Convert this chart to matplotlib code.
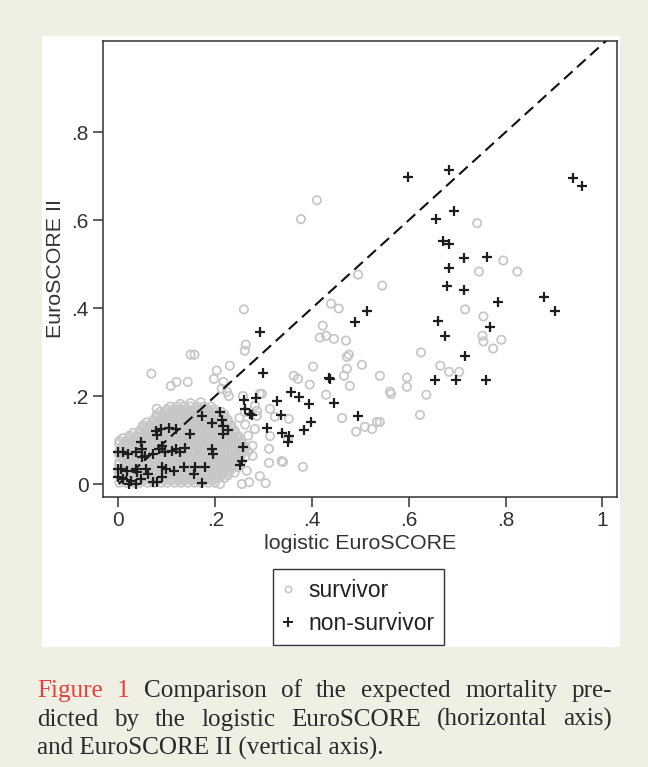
import matplotlib
matplotlib.use("Agg")
import matplotlib.pyplot as plt
from matplotlib.patches import Rectangle
from matplotlib.lines import Line2D

# ---------------- data ----------------
# dense survivor cluster, read row by row (y level, x positions)
cluster_row_y = [0.003, 0.014, 0.026, 0.038, 0.050, 0.062, 0.074, 0.086,
                 0.098, 0.110, 0.122, 0.134, 0.146, 0.158, 0.170]
cluster_row_x = [
    [0.002, 0.016, 0.031, 0.044, 0.060, 0.073, 0.088, 0.101, 0.116, 0.129, 0.144, 0.157, 0.171, 0.186, 0.199],
    [0.008, 0.023, 0.037, 0.050, 0.066, 0.080, 0.093, 0.108, 0.122, 0.136, 0.150, 0.163, 0.178, 0.192, 0.206, 0.219],
    [0.001, 0.015, 0.029, 0.043, 0.057, 0.071, 0.086, 0.099, 0.113, 0.127, 0.142, 0.155, 0.169, 0.184, 0.197, 0.212, 0.225, 0.240],
    [0.009, 0.022, 0.036, 0.051, 0.064, 0.078, 0.092, 0.106, 0.120, 0.134, 0.148, 0.162, 0.176, 0.190, 0.204, 0.218, 0.232, 0.247],
    [0.002, 0.016, 0.030, 0.044, 0.058, 0.072, 0.085, 0.100, 0.114, 0.128, 0.141, 0.156, 0.170, 0.183, 0.198, 0.211, 0.226, 0.239, 0.254],
    [0.008, 0.022, 0.037, 0.050, 0.065, 0.079, 0.093, 0.107, 0.121, 0.134, 0.149, 0.163, 0.177, 0.191, 0.205, 0.219, 0.233, 0.247, 0.262],
    [0.001, 0.015, 0.029, 0.043, 0.058, 0.071, 0.086, 0.100, 0.113, 0.128, 0.142, 0.156, 0.169, 0.184, 0.198, 0.212, 0.226, 0.240, 0.254, 0.268],
    [0.008, 0.022, 0.036, 0.050, 0.064, 0.078, 0.093, 0.106, 0.121, 0.135, 0.149, 0.162, 0.177, 0.191, 0.204, 0.219, 0.233, 0.247, 0.261],
    [0.002, 0.016, 0.030, 0.044, 0.058, 0.072, 0.086, 0.100, 0.114, 0.128, 0.142, 0.156, 0.170, 0.184, 0.198, 0.212, 0.226, 0.240, 0.254],
    [0.023, 0.037, 0.051, 0.065, 0.079, 0.093, 0.107, 0.121, 0.135, 0.149, 0.163, 0.177, 0.191, 0.205, 0.219, 0.233, 0.247],
    [0.044, 0.058, 0.072, 0.086, 0.100, 0.114, 0.128, 0.142, 0.156, 0.170, 0.184, 0.198, 0.212, 0.226, 0.240],
    [0.051, 0.065, 0.079, 0.093, 0.107, 0.121, 0.135, 0.149, 0.163, 0.177, 0.191, 0.205, 0.219, 0.233],
    [0.072, 0.086, 0.100, 0.114, 0.128, 0.142, 0.156, 0.170, 0.184, 0.198, 0.212, 0.226],
    [0.079, 0.093, 0.107, 0.121, 0.135, 0.149, 0.163, 0.177, 0.191, 0.205, 0.219],
    [0.100, 0.114, 0.128, 0.142, 0.156, 0.170, 0.184, 0.198],
]
# second, staggered set of cluster rows (the cluster is densely overplotted)
cluster_mid_y = [0.008, 0.020, 0.032, 0.044, 0.056, 0.068, 0.080, 0.092,
                 0.104, 0.116, 0.128, 0.140, 0.152, 0.164, 0.176]
cluster_mid_x = [
    [0.009, 0.023, 0.038, 0.051, 0.067, 0.080, 0.095, 0.108, 0.123, 0.136, 0.151, 0.164, 0.178, 0.192],
    [0.001, 0.015, 0.030, 0.044, 0.057, 0.073, 0.087, 0.100, 0.115, 0.129, 0.143, 0.157, 0.170, 0.185, 0.199, 0.213, 0.226],
    [0.008, 0.022, 0.036, 0.050, 0.064, 0.078, 0.093, 0.106, 0.120, 0.134, 0.149, 0.162, 0.176, 0.191, 0.204, 0.219, 0.232],
    [0.001, 0.016, 0.029, 0.043, 0.058, 0.071, 0.085, 0.099, 0.113, 0.127, 0.141, 0.155, 0.169, 0.183, 0.197, 0.211, 0.225, 0.239],
    [0.009, 0.023, 0.037, 0.051, 0.065, 0.079, 0.092, 0.107, 0.121, 0.135, 0.148, 0.163, 0.177, 0.190, 0.205, 0.218, 0.233, 0.246],
    [0.001, 0.015, 0.029, 0.044, 0.057, 0.072, 0.086, 0.100, 0.114, 0.128, 0.141, 0.156, 0.170, 0.184, 0.198, 0.212, 0.226, 0.240, 0.254],
    [0.008, 0.022, 0.036, 0.050, 0.065, 0.078, 0.093, 0.107, 0.120, 0.135, 0.149, 0.163, 0.176, 0.191, 0.205, 0.219, 0.233, 0.247, 0.261],
    [0.001, 0.015, 0.029, 0.043, 0.057, 0.071, 0.085, 0.100, 0.113, 0.128, 0.142, 0.156, 0.169, 0.184, 0.198, 0.211, 0.226, 0.240, 0.254],
    [0.009, 0.023, 0.037, 0.051, 0.065, 0.079, 0.093, 0.107, 0.121, 0.135, 0.149, 0.163, 0.177, 0.191, 0.205, 0.219, 0.233, 0.247],
    [0.030, 0.044, 0.058, 0.072, 0.086, 0.100, 0.114, 0.128, 0.142, 0.156, 0.170, 0.184, 0.198, 0.212, 0.226, 0.240],
    [0.051, 0.065, 0.079, 0.093, 0.107, 0.121, 0.135, 0.149, 0.163, 0.177, 0.191, 0.205, 0.219, 0.233],
    [0.058, 0.072, 0.086, 0.100, 0.114, 0.128, 0.142, 0.156, 0.170, 0.184, 0.198, 0.212, 0.226],
    [0.079, 0.093, 0.107, 0.121, 0.135, 0.149, 0.163, 0.177, 0.191, 0.205, 0.219],
    [0.086, 0.100, 0.114, 0.128, 0.142, 0.156, 0.170, 0.184, 0.198, 0.212],
    [0.107, 0.121, 0.135, 0.149, 0.163, 0.177, 0.191],
]

# scattered survivors (logistic EuroSCORE, EuroSCORE II)
survivor_scatter = [
    (0.149, 0.294), (0.157, 0.294), (0.068, 0.251), (0.108, 0.223), (0.120, 0.232),
    (0.143, 0.232), (0.230, 0.269), (0.203, 0.258), (0.197, 0.239), (0.217, 0.232),
    (0.224, 0.210), (0.213, 0.217), (0.228, 0.200), (0.079, 0.171), (0.128, 0.182),
    (0.149, 0.184), (0.170, 0.186), (0.263, 0.317), (0.261, 0.303), (0.259, 0.397),
    (0.410, 0.645), (0.377, 0.602), (0.495, 0.476), (0.545, 0.451), (0.439, 0.410),
    (0.455, 0.399), (0.422, 0.360), (0.416, 0.333), (0.429, 0.337), (0.445, 0.330),
    (0.470, 0.326), (0.472, 0.289), (0.476, 0.294), (0.503, 0.271), (0.540, 0.246),
    (0.561, 0.210), (0.402, 0.267), (0.362, 0.246), (0.371, 0.239), (0.395, 0.226),
    (0.472, 0.262), (0.466, 0.246), (0.478, 0.223), (0.429, 0.203), (0.462, 0.150),
    (0.491, 0.119), (0.509, 0.130), (0.524, 0.125), (0.534, 0.141), (0.311, 0.080),
    (0.311, 0.048), (0.340, 0.050), (0.381, 0.039), (0.292, 0.018), (0.304, 0.002),
    (0.716, 0.397), (0.754, 0.381), (0.752, 0.337), (0.754, 0.324), (0.791, 0.328),
    (0.774, 0.308), (0.625, 0.299), (0.665, 0.269), (0.683, 0.255), (0.704, 0.255),
    (0.596, 0.242), (0.596, 0.221), (0.563, 0.205), (0.636, 0.203), (0.623, 0.157),
    (0.540, 0.141), (0.741, 0.593), (0.795, 0.508), (0.824, 0.483), (0.745, 0.483),
    (0.292, 0.205), (0.282, 0.178), (0.286, 0.155), (0.282, 0.125), (0.277, 0.087),
    (0.277, 0.064), (0.313, 0.171), (0.323, 0.153), (0.352, 0.148), (0.313, 0.109),
    (0.337, 0.052), (0.350, 0.103), (0.261, 0.164), (0.286, 0.166), (0.257, 0.200),
    (0.296, 0.205), (0.210, 0.000), (0.255, 0.000), (0.270, 0.004), (0.265, 0.030),
    (0.268, 0.110), (0.262, 0.135), (0.250, 0.150),
]

# non-survivors: outlying points
nonsurvivor_scatter = [
    (0.598, 0.697), (0.683, 0.713), (0.940, 0.695), (0.957, 0.677), (0.694, 0.620),
    (0.656, 0.602), (0.671, 0.552), (0.683, 0.545), (0.714, 0.513), (0.762, 0.517),
    (0.683, 0.490), (0.679, 0.451), (0.714, 0.440), (0.785, 0.413), (0.880, 0.424),
    (0.901, 0.394), (0.660, 0.370), (0.675, 0.337), (0.768, 0.356), (0.716, 0.292),
    (0.654, 0.237), (0.697, 0.237), (0.759, 0.237), (0.292, 0.346), (0.298, 0.253),
    (0.435, 0.242), (0.437, 0.238), (0.356, 0.210), (0.373, 0.198), (0.393, 0.182),
    (0.445, 0.185), (0.495, 0.155), (0.284, 0.196), (0.327, 0.189), (0.335, 0.157),
    (0.275, 0.157), (0.306, 0.128), (0.337, 0.116), (0.352, 0.109), (0.350, 0.096),
    (0.383, 0.123), (0.398, 0.141), (0.489, 0.369), (0.513, 0.394),
]
# non-survivors inside the dense cluster
nonsurvivor_cluster = [
    (0.259, 0.191), (0.257, 0.084), (0.255, 0.052), (0.251, 0.043), (0.261, 0.171),
    (0.271, 0.160), (0.209, 0.164), (0.172, 0.155), (0.193, 0.139), (0.213, 0.146),
    (0.215, 0.132), (0.226, 0.123), (0.215, 0.114), (0.147, 0.114), (0.137, 0.082),
    (0.193, 0.080), (0.195, 0.068), (0.135, 0.039), (0.159, 0.039), (0.178, 0.039),
    (0.157, 0.023), (0.172, 0.002), (0.077, 0.121), (0.087, 0.125), (0.104, 0.128),
    (0.118, 0.125), (0.079, 0.112), (0.046, 0.096), (0.000, 0.073), (0.010, 0.073),
    (0.037, 0.073), (0.048, 0.062), (0.072, 0.068), (0.083, 0.080), (0.089, 0.087),
    (0.097, 0.073), (0.110, 0.075), (0.118, 0.080), (0.128, 0.073), (0.000, 0.034),
    (0.006, 0.034), (0.017, 0.030), (0.037, 0.034), (0.056, 0.034), (0.089, 0.039),
    (0.099, 0.034), (0.114, 0.030), (0.010, 0.011), (0.000, 0.016), (0.025, 0.007),
    (0.046, 0.011), (0.072, 0.005), (0.021, 0.000), (0.037, 0.000), (0.060, 0.023),
    (0.089, 0.016), (0.048, 0.080), (0.019, 0.068), (0.054, 0.064), (0.079, 0.005),
    (0.039, 0.027),
]

xticks = [0, 0.2, 0.4, 0.6, 0.8, 1.0]
xtick_labels = ["0", ".2", ".4", ".6", ".8", "1"]
yticks = [0, 0.2, 0.4, 0.6, 0.8]
ytick_labels = ["0", ".2", ".4", ".6", ".8"]
identity = [0, 1.03]
legend_labels = ["survivor", "non-survivor"]

caption_lines = [
    [("Figure", "red"), ("1", "red"), ("Comparison", "k"), ("of", "k"), ("the", "k"),
     ("expected", "k"), ("mortality", "k"), ("pre-", "k")],
    [("dicted", "k"), ("by", "k"), ("the", "k"), ("logistic", "k"), ("EuroSCORE", "k"),
     ("(horizontal", "k"), ("axis)", "k")],
    [("and EuroSCORE II (vertical axis).", "k")],
]

# ---------------- drawing ----------------
W, H = 648, 767
BG = "#efefe4"
GRAY = "#c6c6c6"
DARK = "#333333"
SANS = "Liberation Sans"
SERIF = "Liberation Serif"

sx, sy = [], []
for rows_y, rows_x in ((cluster_row_y, cluster_row_x), (cluster_mid_y, cluster_mid_x)):
    for yv, xs in zip(rows_y, rows_x):
        for xv in xs:
            sx.append(xv)
            sy.append(yv)
for xv, yv in survivor_scatter:
    sx.append(xv)
    sy.append(yv)
nx = [p[0] for p in nonsurvivor_scatter + nonsurvivor_cluster]
ny = [p[1] for p in nonsurvivor_scatter + nonsurvivor_cluster]

fig = plt.figure(figsize=(W / 100, H / 100), dpi=100, facecolor=BG)
fig.patches.append(Rectangle((42 / W, 1 - 647 / H), (620 - 42) / W, (647 - 36) / H,
                             transform=fig.transFigure, facecolor="white",
                             edgecolor="none", zorder=-5))

ax = fig.add_axes([103 / W, 1 - 497 / H, (617 - 103) / W, (497 - 41) / H])
ax.set_facecolor("white")
ax.scatter(sx, sy, s=36, facecolors="none", edgecolors=GRAY, linewidths=1.25, zorder=2)
ax.plot(identity, identity, color="#111111", lw=1.5, dashes=(5.5, 3), zorder=3)
ax.scatter(nx, ny, marker="+", s=60, color="#1e1e1e", linewidths=1.6, zorder=4)

ax.set_xlim(-0.032, 1.030)
ax.set_ylim(-0.0295, 1.007)
ax.set_xticks(xticks)
ax.set_xticklabels(xtick_labels, family=SANS)
ax.set_yticks(yticks)
ax.set_yticklabels(ytick_labels, family=SANS)
ax.tick_params(direction="out", length=7.2, width=1.1, color=DARK,
               labelsize=15, labelcolor=DARK, pad=3)
for sp in ax.spines.values():
    sp.set_linewidth(1.1)
    sp.set_color(DARK)
ax.set_xlabel("logistic EuroSCORE", fontsize=15.4, color=DARK, family=SANS, labelpad=3)
ax.set_ylabel("EuroSCORE II", fontsize=15.4, color=DARK, family=SANS, labelpad=5)

handles = [
    Line2D([], [], ls="none", marker="o", ms=4.5, mfc="none", mec=GRAY, mew=1.1),
    Line2D([], [], ls="none", marker="+", ms=7.5, color="#1e1e1e", mew=1.4),
]
leg = fig.legend(handles, legend_labels, loc="upper left",
                 bbox_to_anchor=(273 / W, 1 - 569 / H), bbox_transform=fig.transFigure,
                 borderaxespad=0, frameon=True, fancybox=False, edgecolor=DARK,
                 framealpha=1, handlelength=0.5, handletextpad=0.63, borderpad=0.42,
                 labelspacing=0.45, prop={"family": SANS, "size": 16.5})
leg.get_frame().set_linewidth(1.0)
for t in leg.get_texts():
    t.set_color("#222222")

# ---------------- caption (justified) ----------------
fig.canvas.draw()
renderer = fig.canvas.get_renderer()


def text_width(s, size):
    t = fig.text(0, 0, s, fontsize=size, family=SERIF)
    w = t.get_window_extent(renderer).width
    t.remove()
    return w


cap_size = 10 * 348 / text_width(caption_lines[2][0][0], 10)
colors = {"red": "#e6403a", "k": "#2a2a2a"}
left_px, right_px = 37, 612
baselines = [697, 726, 755]
for i, (words, base) in enumerate(zip(caption_lines, baselines)):
    widths = [text_width(w, cap_size) for w, _ in words]
    if i < 2:
        gap = (right_px - left_px - sum(widths)) / (len(words) - 1)
    else:
        gap = 0
    xpos = left_px
    for (w, c), wd in zip(words, widths):
        fig.text(xpos / W, 1 - base / H, w, fontsize=cap_size, family=SERIF,
                 color=colors[c], va="baseline", ha="left")
        xpos += wd + gap

fig.savefig("out.png", dpi=100, facecolor=BG)
